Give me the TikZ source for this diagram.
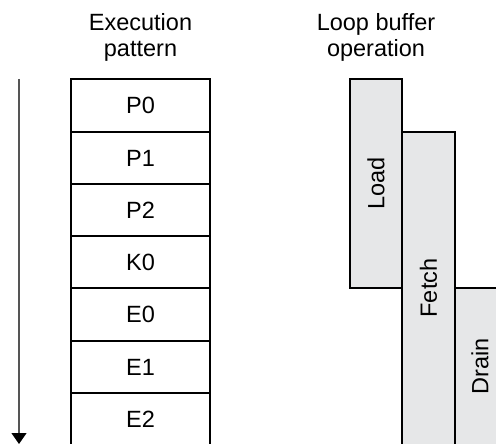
\documentclass[tikz,border=0pt]{standalone}
\usepackage{fontspec}
\setmainfont{Liberation Sans}
\usetikzlibrary{arrows.meta}
\definecolor{boxgray}{HTML}{E6E7E8}
\definecolor{axisgray}{HTML}{555555}
\begin{document}
\begin{tikzpicture}[x=1pt,y=-1pt,
  txt/.style={font=\fontsize{23.5}{26}\selectfont},
  cell/.style={draw=black,line width=1.7pt,fill=white,minimum width=139pt,inner sep=0pt,txt},
  lbuf/.style={draw=black,line width=1.7pt,fill=boxgray,inner sep=0pt},
  head/.style={txt,align=center,anchor=north,inner sep=0pt}]
\useasboundingbox (0,0) rectangle (496,444);
% headers
\node[head] (h1) at (140.5,13) {Execution\\pattern};
\node[head] (h2) at (376,13) {Loop buffer\\operation};
% time axis
\coordinate (a0) at (19,79);
\coordinate (a1) at (19,444);
\draw[axisgray,line width=1.3pt,-{Triangle[width=15pt,length=11pt,fill=black,color=black]}] (a0) -- (a1);
% execution pattern cells
\node[cell,minimum height=53pt] (p0) at (140.5,105.5) {P0};
\node[cell,minimum height=52pt] (p1) at (140.5,158) {P1};
\node[cell,minimum height=52pt] (p2) at (140.5,210) {P2};
\node[cell,minimum height=52pt] (k0) at (140.5,262) {K0};
\node[cell,minimum height=53pt] (e0) at (140.5,314.5) {E0};
\node[cell,minimum height=52pt] (e1) at (140.5,367) {E1};
\node[cell,minimum height=64pt,text height=14pt] (e2) at (140.5,425) {};
\node[txt] (e2t) at (140.5,419) {E2};
% loop buffer operation
\draw[lbuf] (350,79) rectangle (402,288);
\draw[lbuf] (455,288) rectangle (510,455);
\draw[lbuf] (402,132) rectangle (455,455);
\node[txt,rotate=90] (load) at (376,183.5) {Load};
\node[txt,rotate=90] (fetch) at (428.5,288) {Fetch};
\node[txt,rotate=90] (drain) at (480,366) {Drain};
\end{tikzpicture}
\end{document}
